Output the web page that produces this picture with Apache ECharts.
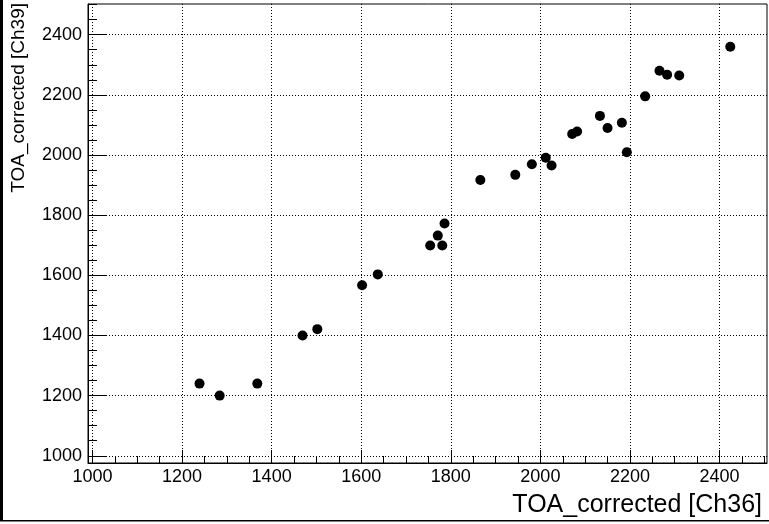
<!DOCTYPE html>
<html>
<head>
<meta charset="utf-8">
<title>TOA_corrected Ch39 vs Ch36</title>
<script src="https://cdn.jsdelivr.net/npm/echarts@6.0.0/dist/echarts.min.js"></script>
<style>
  html, body { margin: 0; padding: 0; background: #fff; }
  #main { width: 769px; height: 524px; }
</style>
</head>
<body>
<div id="main"></div>
<script>
// TOA_corrected values, Ch36 (x) vs Ch39 (y)
var toaCh36 = [1239, 1284, 1368, 1469, 1502, 1602, 1637, 1754, 1771, 1781,
               1786, 1866, 1944, 1981, 2012, 2025, 2071, 2082, 2133, 2150,
               2182, 2193, 2234, 2266, 2283, 2310, 2424];
var toaCh39 = [1240, 1200, 1240, 1400, 1421, 1567, 1603, 1699, 1732, 1699,
               1772, 1917, 1934, 1969, 1991, 1965, 2070, 2078, 2130, 2090,
               2107, 2009, 2195, 2280, 2267, 2264, 2360];

// axis ticks
var xMajorTicks = [1000, 1200, 1400, 1600, 1800, 2000, 2200, 2400];
var yMajorTicks = [1000, 1200, 1400, 1600, 1800, 2000, 2200, 2400];
var xRange = [990, 2506];
var yRange = [976, 2502];

function minorTicks(from, to, step) {
  var out = [];
  for (var v = from; v <= to; v += step) out.push(v);
  return out;
}
var xMinorTicks = minorTicks(1000, 2500, 50);
var yMinorTicks = minorTicks(1000, 2500, 50);

var points = [];
for (var i = 0; i < toaCh36.length; i++) {
  points.push([toaCh36[i], toaCh39[i]]);
}

var font = "'Liberation Sans', Arial, Helvetica, sans-serif";
var dotted = { color: '#000', width: 1, type: [1, 2] };
function plain(v) { return String(v); }  // no thousands separator

var chart = echarts.init(document.getElementById('main'), null, { renderer: 'canvas' });

var option = {
  animation: false,
  backgroundColor: '#fff',
  textStyle: { fontFamily: font },
  grid: {
    left: 88, top: 4, right: 2, bottom: 61,
    show: true, borderColor: '#000', borderWidth: 1,
    containLabel: false
  },
  xAxis: [
    {
      type: 'value', min: xRange[0], max: xRange[1], position: 'bottom',
      axisLine: { show: true, onZero: false, lineStyle: { color: '#000', width: 1 } },
      axisTick: { show: true, inside: true, length: 13, customValues: xMajorTicks,
                  lineStyle: { color: '#000', width: 1 } },
      axisLabel: { show: true, customValues: xMajorTicks, margin: 5, formatter: plain,
                   color: '#000', fontSize: 18, fontFamily: font },
      splitLine: { show: true, lineStyle: dotted }
    },
    {
      type: 'value', min: xRange[0], max: xRange[1], position: 'bottom',
      axisLine: { show: false },
      axisTick: { show: true, inside: true, length: 7, customValues: xMinorTicks,
                  lineStyle: { color: '#000', width: 1 } },
      axisLabel: { show: false },
      splitLine: { show: false }
    }
  ],
  yAxis: [
    {
      type: 'value', min: yRange[0], max: yRange[1], position: 'left',
      axisLine: { show: true, onZero: false, lineStyle: { color: '#000', width: 1 } },
      axisTick: { show: true, inside: true, length: 19, customValues: yMajorTicks,
                  lineStyle: { color: '#000', width: 1 } },
      axisLabel: { show: true, customValues: yMajorTicks, margin: 6, formatter: plain,
                   color: '#000', fontSize: 18, fontFamily: font },
      splitLine: { show: true, lineStyle: dotted }
    },
    {
      type: 'value', min: yRange[0], max: yRange[1], position: 'left',
      axisLine: { show: false },
      axisTick: { show: true, inside: true, length: 9, customValues: yMinorTicks,
                  lineStyle: { color: '#000', width: 1 } },
      axisLabel: { show: false },
      splitLine: { show: false }
    }
  ],
  graphic: [
    { type: 'rect', left: 0, top: 0, shape: { width: 3, height: 521 },
      style: { fill: '#000' }, silent: true },
    { type: 'rect', left: 0, top: 520, shape: { width: 769, height: 1.5 },
      style: { fill: '#000' }, silent: true },
    { type: 'text', x: 762, y: 518, silent: true,
      style: { text: 'TOA_corrected [Ch36]', fill: '#000', font: '25px ' + font,
               textAlign: 'right', textVerticalAlign: 'bottom' } },
    { type: 'text', x: 19, y: 3, rotation: Math.PI / 2, silent: true,
      style: { text: 'TOA_corrected [Ch39]', fill: '#000', font: '19px ' + font,
               textAlign: 'right', textVerticalAlign: 'middle' } }
  ],
  series: [
    {
      name: 'TOA_corrected',
      type: 'scatter',
      xAxisIndex: 0,
      yAxisIndex: 0,
      symbol: 'circle',
      symbolSize: 10,
      itemStyle: { color: '#000', opacity: 1 },
      data: points
    }
  ]
};

chart.setOption(option);
</script>
</body>
</html>
